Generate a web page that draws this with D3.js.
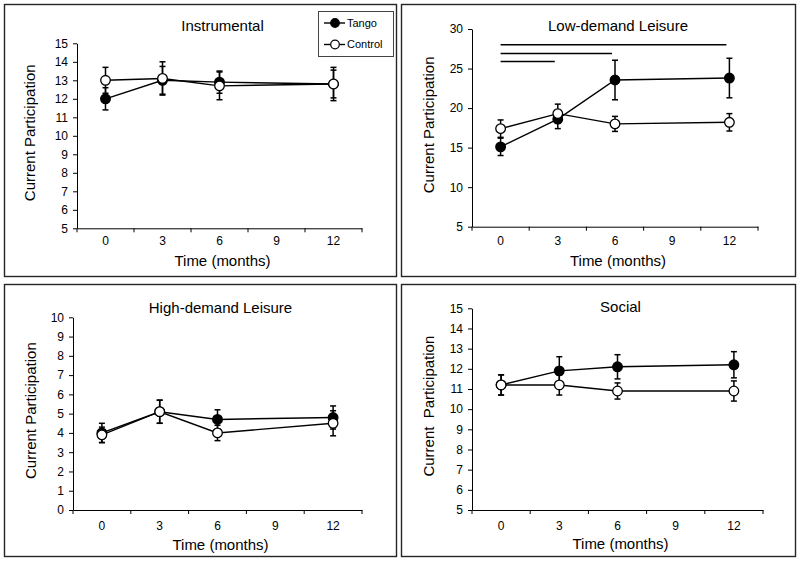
<!DOCTYPE html>
<html>
<head>
<meta charset="utf-8">
<script src="https://cdn.jsdelivr.net/npm/d3@7/dist/d3.min.js"></script>
<style>
  html, body { margin: 0; padding: 0; background: #fff; }
  svg { display: block; }
  text { font-family: "Liberation Sans", Arial, sans-serif; fill: #000; }
</style>
</head>
<body>
<svg id="chart" width="800" height="561"></svg>
<script>
// ---------------- DATA ----------------
const months = ["0", "3", "6", "9", "12"];
const dataMonths = ["0", "3", "6", "12"];
const seriesNames = ["Tango", "Control"];

const instrumentalTango = [12.0, 13.0, 12.9, 12.8];
const instrumentalTangoErr = [0.6, 0.75, 0.6, 0.75];
const instrumentalControl = [13.0, 13.1, 12.7, 12.8];
const instrumentalControlErr = [0.7, 0.9, 0.75, 0.9];

const lowTango = [15.1, 18.6, 23.55, 23.8];
const lowTangoErr = [1.1, 1.2, 2.5, 2.5];
const lowControl = [17.4, 19.3, 18.0, 18.2];
const lowControlErr = [1.1, 1.2, 0.95, 1.1];
const lowSignificance = [
  { from: "0", to: "3", value: 25.9 },
  { from: "0", to: "6", value: 26.9 },
  { from: "0", to: "12", value: 28.0 }
];

const highTango = [4.0, 5.1, 4.7, 4.8];
const highTangoErr = [0.5, 0.6, 0.5, 0.6];
const highControl = [3.9, 5.1, 4.0, 4.5];
const highControlErr = [0.4, 0.6, 0.4, 0.65];

const socialTango = [11.2, 11.9, 12.1, 12.2];
const socialTangoErr = [0.5, 0.7, 0.6, 0.65];
const socialControl = [11.2, 11.2, 10.9, 10.9];
const socialControlErr = [0.5, 0.5, 0.4, 0.5];

const ticksInstrumental = [5, 6, 7, 8, 9, 10, 11, 12, 13, 14, 15];
const ticksLow = [5, 10, 15, 20, 25, 30];
const ticksHigh = [0, 1, 2, 3, 4, 5, 6, 7, 8, 9, 10];
const ticksSocial = [5, 6, 7, 8, 9, 10, 11, 12, 13, 14, 15];

const titles = ["Instrumental", "Low-demand Leisure", "High-demand Leisure", "Social"];
const yLabels = ["Current Participation", "Current Participation", "Current Participation", "Current  Participation"];
const xLabel = "Time (months)";

// ---------------- LAYOUT ----------------
const panels = [
  { title: titles[0], yLabel: yLabels[0], domain: [5, 15], ticks: ticksInstrumental,
    tango: instrumentalTango, tangoErr: instrumentalTangoErr, control: instrumentalControl, controlErr: instrumentalControlErr,
    box: [4, 4, 396, 276], x0: 77, x1: 362, yTop: 43.3, yBot: 228.3,
    titleY: 26, yLabelX: 29.5, tickPad: 8, xTitleDy: 32, legend: true },
  { title: titles[1], yLabel: yLabels[1], domain: [5, 30], ticks: ticksLow,
    tango: lowTango, tangoErr: lowTangoErr, control: lowControl, controlErr: lowControlErr,
    box: [401, 4, 795, 276], x0: 472, x1: 758, yTop: 29, yBot: 226.7,
    titleY: 25.3, yLabelX: 428.5, tickPad: 9.5, xTitleDy: 34, sig: lowSignificance },
  { title: titles[2], yLabel: yLabels[2], domain: [0, 10], ticks: ticksHigh,
    tango: highTango, tangoErr: highTangoErr, control: highControl, controlErr: highControlErr,
    box: [4, 284, 396, 556], x0: 73, x1: 362, yTop: 317.3, yBot: 510,
    titleY: 307.5, yLabelX: 30.5, tickPad: 11, xTitleDy: 35 },
  { title: titles[3], yLabel: yLabels[3], domain: [5, 15], ticks: ticksSocial,
    tango: socialTango, tangoErr: socialTangoErr, control: socialControl, controlErr: socialControlErr,
    box: [401, 284, 795, 556], x0: 472, x1: 763, yTop: 308.3, yBot: 510,
    titleY: 307, yLabelX: 429, tickPad: 11, xTitleDy: 33.5 }
];

const svg = d3.select("#chart");
svg.append("rect").attr("width", 800).attr("height", 561).attr("fill", "#fff");

panels.forEach(p => {
  const g = svg.append("g");
  const [bx0, by0, bx1, by1] = p.box;
  g.append("rect")
    .attr("x", bx0 + 0.5).attr("y", by0 + 0.5)
    .attr("width", bx1 - bx0).attr("height", by1 - by0)
    .attr("fill", "none").attr("stroke", "#262626").attr("stroke-width", 1.4);

  const x = d3.scaleBand().domain(months).range([p.x0, p.x1]).padding(0);
  const y = d3.scaleLinear().domain(p.domain).range([p.yBot, p.yTop]);
  const cx = m => x(m) + x.bandwidth() / 2;

  // Y axis
  const yAxis = g.append("g")
    .attr("transform", `translate(${p.x0},0)`)
    .call(d3.axisLeft(y).tickValues(p.ticks).tickSize(4).tickSizeOuter(0).tickPadding(5));
  yAxis.selectAll("path,line").attr("stroke", "#000").attr("stroke-width", 1);
  yAxis.selectAll("text").attr("font-size", 12).attr("font-family", "Liberation Sans, Arial, sans-serif").attr("fill", "#000");

  // X axis (labels centered in categories, ticks at boundaries)
  const xAxis = g.append("g")
    .attr("transform", `translate(0,${p.yBot})`)
    .call(d3.axisBottom(x).tickSize(0).tickSizeOuter(0).tickPadding(p.tickPad));
  xAxis.select("path").attr("stroke", "#000").attr("stroke-width", 1);
  xAxis.selectAll("text").attr("font-size", 12).attr("font-family", "Liberation Sans, Arial, sans-serif").attr("fill", "#000");
  const bounds = months.map(m => x(m)).concat([p.x1]);
  g.selectAll(".xb").data(bounds).enter().append("line")
    .attr("x1", d => d).attr("x2", d => d)
    .attr("y1", p.yBot).attr("y2", p.yBot + 4)
    .attr("stroke", "#000").attr("stroke-width", 1);

  // Titles
  g.append("text").attr("x", (p.x0 + p.x1) / 2 + 3).attr("y", p.titleY).attr("dy", "0.35em")
    .attr("text-anchor", "middle").attr("font-size", 15).text(p.title);
  g.append("text").attr("x", (p.x0 + p.x1) / 2 + 3).attr("y", p.yBot + p.xTitleDy).attr("dy", "0.35em")
    .attr("text-anchor", "middle").attr("font-size", 15).text(xLabel);
  g.append("text")
    .attr("transform", `translate(${p.yLabelX},${(p.yTop + p.yBot) / 2 - 3}) rotate(-90)`)
    .attr("dy", "0.35em").attr("text-anchor", "middle").attr("font-size", 15)
    .style("white-space", "pre").text(p.yLabel);

  // Significance lines
  if (p.sig) {
    g.selectAll(".sig").data(p.sig).enter().append("line")
      .attr("x1", d => cx(d.from)).attr("x2", d => cx(d.to) - 3)
      .attr("y1", d => y(d.value)).attr("y2", d => y(d.value))
      .attr("stroke", "#000").attr("stroke-width", 1.5);
  }

  const series = [
    { name: seriesNames[0], values: p.tango, errs: p.tangoErr, fill: "#000" },
    { name: seriesNames[1], values: p.control, errs: p.controlErr, fill: "#fff" }
  ];
  const line = d3.line().x(d => cx(d.m)).y(d => y(d.v));

  series.forEach(s => {
    const pts = dataMonths.map((m, i) => ({ m, v: s.values[i], e: s.errs[i] }));
    g.append("path").datum(pts).attr("d", line)
      .attr("fill", "none").attr("stroke", "#000").attr("stroke-width", 1.4);
  });
  series.forEach(s => {
    const pts = dataMonths.map((m, i) => ({ m, v: s.values[i], e: s.errs[i] }));
    const eb = g.append("g");
    pts.forEach(d => {
      const xx = cx(d.m);
      eb.append("line").attr("x1", xx).attr("x2", xx).attr("y1", y(d.v - d.e)).attr("y2", y(d.v + d.e))
        .attr("stroke", "#000").attr("stroke-width", 1.5);
      [d.v - d.e, d.v + d.e].forEach(v => {
        eb.append("line").attr("x1", xx - 3).attr("x2", xx + 3).attr("y1", y(v)).attr("y2", y(v))
          .attr("stroke", "#000").attr("stroke-width", 1.5);
      });
    });
  });
  series.forEach(s => {
    const pts = dataMonths.map((m, i) => ({ m, v: s.values[i] }));
    g.selectAll(null).data(pts).enter().append("circle")
      .attr("cx", d => cx(d.m)).attr("cy", d => y(d.v)).attr("r", 4.8)
      .attr("fill", s.fill).attr("stroke", "#000").attr("stroke-width", 1.3);
  });

  // Legend
  if (p.legend) {
    const lg = g.append("g");
    lg.append("rect").attr("x", 318.5).attr("y", 11.5).attr("width", 75).attr("height", 45)
      .attr("fill", "#fff").attr("stroke", "#444").attr("stroke-width", 1);
    series.forEach((s, i) => {
      const ly = 23 + i * 21.5;
      lg.append("line").attr("x1", 324).attr("x2", 345).attr("y1", ly).attr("y2", ly)
        .attr("stroke", "#000").attr("stroke-width", 1.4);
      lg.append("circle").attr("cx", 335).attr("cy", ly).attr("r", 4.3)
        .attr("fill", s.fill).attr("stroke", "#000").attr("stroke-width", 1.2);
      lg.append("text").attr("x", 347).attr("y", ly).attr("dy", "0.35em")
        .attr("font-family", "Lato, 'Open Sans', sans-serif").attr("font-size", 11)
        .attr("fill", "#222").text(s.name);
    });
  }
});
</script>
</body>
</html>
